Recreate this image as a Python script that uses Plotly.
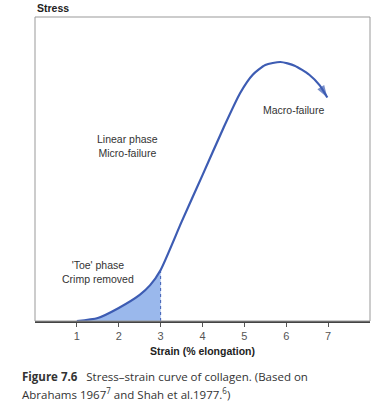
import plotly.graph_objects as go

# Stress-strain curve
strain = [1.0, 1.5, 2.0, 2.5, 2.75, 3.0, 3.5, 4.0, 4.5, 4.9, 5.2, 5.5, 5.86, 6.2, 6.55, 6.8, 6.98]
stress = [0.0, 0.1, 0.43, 0.86, 1.18, 1.68, 3.26, 4.8, 6.35, 7.5, 8.1, 8.42, 8.52, 8.4, 8.1, 7.75, 7.35]

toe_strain = [1.0, 1.5, 2.0, 2.5, 2.75, 3.0]
toe_stress = [0.0, 0.1, 0.43, 0.86, 1.18, 1.68]

tick_vals = [1, 2, 3, 4, 5, 6, 7]
tick_text = ["1", "2", "3", "4", "5", "6", "7"]

line_col = "#3d5cb3"
fill_col = "rgba(120,160,230,0.75)"
txt_col = "#333333"
font_main = "Liberation Sans"

fig = go.Figure()

# shaded toe region
fig.add_trace(go.Scatter(x=toe_strain, y=toe_stress, mode="lines", fill="tozeroy",
                         fillcolor=fill_col, line=dict(width=0), hoverinfo="skip"))
# dotted line at end of toe
fig.add_trace(go.Scatter(x=[toe_strain[-1], toe_strain[-1]], y=[0, toe_stress[-1]], mode="lines",
                         line=dict(color=line_col, width=1, dash="dot"), hoverinfo="skip"))
# main curve
sizes = [0] * (len(strain) - 1) + [13]
fig.add_trace(go.Scatter(x=strain, y=stress, mode="lines+markers",
                         line=dict(color=line_col, width=2.2, shape="spline", smoothing=0.6),
                         marker=dict(symbol="arrow", size=sizes, angleref="previous",
                                     color=line_col, line=dict(width=0))))

ann_font = dict(family=font_main, size=10.5, color=txt_col)
fig.add_annotation(x=2.2, y=5.76, text="Linear phase<br>Micro-failure", showarrow=False, font=ann_font)
fig.add_annotation(x=1.5, y=1.6, text="'Toe' phase<br>Crimp removed", showarrow=False, font=ann_font)
fig.add_annotation(x=6.17, y=6.94, text="Macro-failure", showarrow=False, font=ann_font)

fig.add_annotation(xref="paper", yref="paper", x=0, y=1.0, yanchor="bottom", xanchor="left",
                   yshift=1, text="<b>Stress</b>", showarrow=False,
                   font=dict(family=font_main, size=10.5, color="#222"))

cap_font = dict(family="Open Sans", size=11.5, color="#333")
fig.add_annotation(xref="paper", yref="paper", x=-0.045, y=-0.152, xanchor="left", yanchor="top",
                   align="left", showarrow=False, font=cap_font,
                   text="<b>Figure 7.6</b>   Stress–strain curve of collagen. (Based on")
fig.add_annotation(xref="paper", yref="paper", x=-0.045, y=-0.203, xanchor="left", yanchor="top",
                   align="left", showarrow=False, font=cap_font,
                   text="Abrahams 1967<sup>7</sup> and Shah et al.1977.<sup>6</sup>)")

fig.update_layout(
    width=388, height=406,
    margin=dict(l=35, r=18, t=17, b=85),
    plot_bgcolor="white", paper_bgcolor="white",
    showlegend=False,
    xaxis=dict(range=[0, 8], tickvals=tick_vals, ticktext=tick_text, ticks="outside", ticklen=4,
               tickcolor="#555", showgrid=False, zeroline=False, showline=True, linecolor="#444",
               linewidth=1.5, mirror=False,
               tickfont=dict(family=font_main, size=11, color="#555"),
               title=dict(text="<b>Strain (% elongation)</b>", standoff=7,
                          font=dict(family=font_main, size=10.5, color="#222"))),
    yaxis=dict(range=[0, 10], showticklabels=False, ticks="", showgrid=False, zeroline=False,
               showline=False),
    shapes=[dict(type="rect", xref="paper", yref="paper", x0=0, y0=0, x1=1, y1=1,
                 line=dict(color="#999", width=1))],
)

fig.write_html("out.html")
